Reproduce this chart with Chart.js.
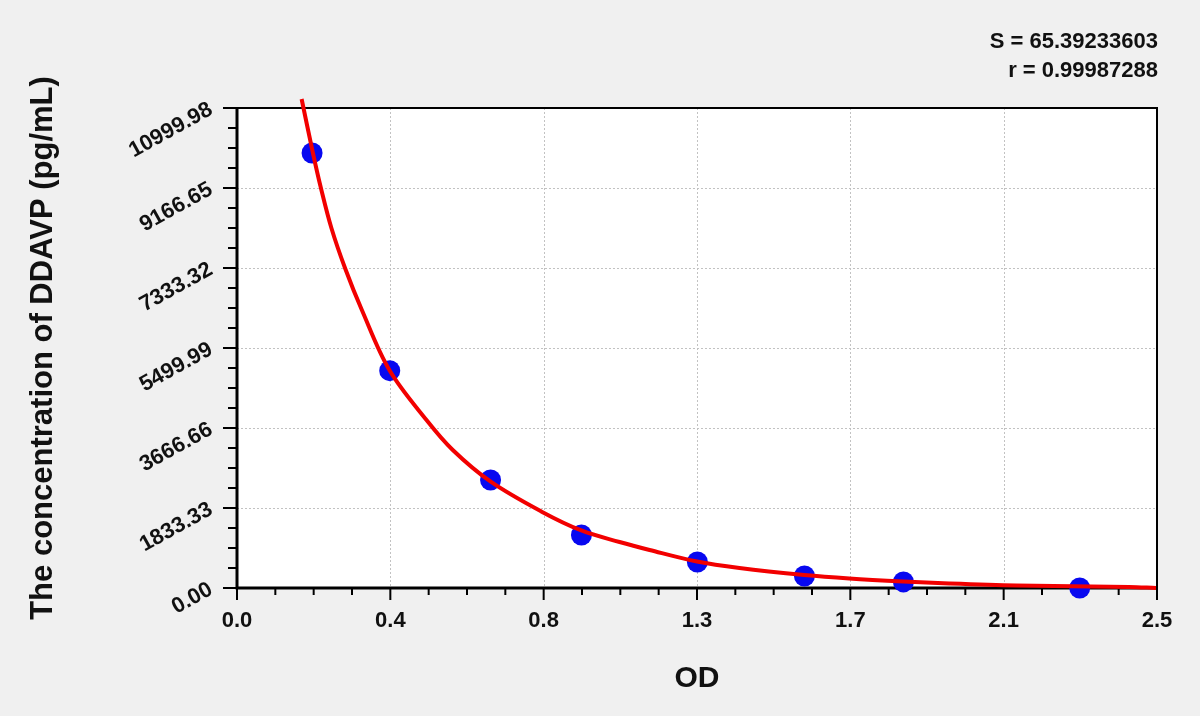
<!DOCTYPE html>
<html><head><meta charset="utf-8">
<script src="https://cdn.jsdelivr.net/npm/chart.js@4/dist/chart.umd.min.js"></script>
<style>html,body{margin:0;padding:0;background:#f0f0f0;overflow:hidden}#wrap{width:1200px;height:716px;position:relative}</style>
</head><body><div id="wrap"><canvas id="c"></canvas></div>
<script>
// ---- data ----
const xTickValues = [0, 0.41667, 0.83333, 1.25, 1.66667, 2.08333, 2.5];
const xTickLabels = ['0.0', '0.4', '0.8', '1.3', '1.7', '2.1', '2.5'];
const yTickValues = [0, 1833.33, 3666.66, 5499.99, 7333.32, 9166.65, 10999.98];
const yTickLabels = ['0.00', '1833.33', '3666.66', '5499.99', '7333.32', '9166.65', '10999.98'];
const stdOD = [0.204, 0.415, 0.689, 0.936, 1.251, 1.542, 1.811, 2.290];
const stdConc = [9969, 4980, 2475, 1215, 595, 275, 140, 0];
const fitOD = [0.1756, 0.2063, 0.2280, 0.2565, 0.2945, 0.3393, 0.4140, 0.5149, 0.5863, 0.6895, 0.8279, 0.9357, 1.0396, 1.1211, 1.2500, 1.3654, 1.5418, 1.6640, 1.8105, 1.9354, 2.1173, 2.4240, 2.4973];
const fitConc = [11206, 9969, 9167, 8250, 7310, 6371, 4996, 3850, 3163, 2436, 1749, 1318, 1054, 871, 607, 458, 298, 218, 149, 103, 57, 23, 0];
const statLines = ['S = 65.39233603', 'r = 0.99987288'];
const xTitle = 'OD';
const yTitle = 'The concentration of DDAVP (pg/mL)';

const FONT = "'Liberation Sans', Arial, sans-serif";

function minorValues(majors) {
  const out = [];
  for (let i = 0; i < majors.length - 1; i++) {
    const a = majors[i], b = majors[i + 1];
    for (let k = 1; k < 4; k++) out.push(a + (b - a) * k / 4);
  }
  return out;
}

const framePlugin = {
  id: 'frame',
  beforeDraw(chart) {
    const {ctx, chartArea: a} = chart;
    ctx.save();
    ctx.fillStyle = '#f0f0f0';
    ctx.fillRect(0, 0, chart.width, chart.height);
    ctx.fillStyle = '#ffffff';
    ctx.fillRect(a.left, a.top, a.right - a.left, a.bottom - a.top);
    ctx.restore();
  },
  beforeDatasetsDraw(chart) {
    const {ctx, chartArea: a, scales: {x, y}} = chart;
    ctx.save();
    ctx.strokeStyle = '#c2c2c2';
    ctx.lineWidth = 1;
    ctx.setLineDash([2, 2]);
    xTickValues.slice(1, -1).forEach(v => {
      const px = Math.round(x.getPixelForValue(v)) + 0.5;
      ctx.beginPath(); ctx.moveTo(px, a.top); ctx.lineTo(px, a.bottom); ctx.stroke();
    });
    yTickValues.slice(1, -1).forEach(v => {
      const py = Math.round(y.getPixelForValue(v)) + 0.5;
      ctx.beginPath(); ctx.moveTo(a.left, py); ctx.lineTo(a.right, py); ctx.stroke();
    });
    ctx.setLineDash([]);
    ctx.strokeStyle = '#000';
    ctx.lineWidth = 2;
    ctx.beginPath(); ctx.moveTo(a.left, a.top); ctx.lineTo(a.right, a.top); ctx.lineTo(a.right, a.bottom); ctx.stroke();
    ctx.lineWidth = 3;
    ctx.beginPath(); ctx.moveTo(a.left, a.top - 1); ctx.lineTo(a.left, a.bottom); ctx.lineTo(a.right + 1, a.bottom); ctx.stroke();
    ctx.lineWidth = 2;
    yTickValues.forEach(v => {
      const py = y.getPixelForValue(v);
      ctx.beginPath(); ctx.moveTo(a.left - 14, py); ctx.lineTo(a.left, py); ctx.stroke();
    });
    minorValues(yTickValues).forEach(v => {
      const py = y.getPixelForValue(v);
      ctx.beginPath(); ctx.moveTo(a.left - 9, py); ctx.lineTo(a.left, py); ctx.stroke();
    });
    xTickValues.forEach(v => {
      const px = x.getPixelForValue(v);
      ctx.beginPath(); ctx.moveTo(px, a.bottom); ctx.lineTo(px, a.bottom + 12); ctx.stroke();
    });
    minorValues(xTickValues).forEach(v => {
      const px = x.getPixelForValue(v);
      ctx.beginPath(); ctx.moveTo(px, a.bottom); ctx.lineTo(px, a.bottom + 7); ctx.stroke();
    });
    ctx.restore();
  },
  afterDraw(chart) {
    const {ctx, chartArea: a} = chart;
    ctx.save();
    ctx.fillStyle = '#111';
    ctx.font = 'bold 22px ' + FONT;
    ctx.textAlign = 'right';
    ctx.textBaseline = 'alphabetic';
    ctx.fillText(statLines[0], a.right + 1, 48);
    ctx.fillText(statLines[1], a.right + 1, 77);
    ctx.restore();
  }
};

new Chart(document.getElementById('c'), {
  type: 'scatter',
  data: {
    datasets: [
      {
        label: 'fit',
        data: fitOD.map((v, i) => ({x: v, y: fitConc[i]})),
        showLine: true,
        borderColor: '#f20000',
        borderWidth: 4,
        pointRadius: 0,
        tension: 0.35,
        clip: false,
        order: 0
      },
      {
        label: 'standards',
        data: stdOD.map((v, i) => ({x: v, y: stdConc[i]})),
        backgroundColor: '#0808f0',
        borderColor: '#0808f0',
        borderWidth: 0,
        pointRadius: 10.5,
        pointHoverRadius: 10.5,
        clip: false,
        order: 1
      }
    ]
  },
  options: {
    responsive: true,
    maintainAspectRatio: false,
    animation: false,
    events: [],
    layout: {padding: {top: 108, right: 43, left: 0, bottom: 0}},
    plugins: {legend: {display: false}, tooltip: {enabled: false}},
    scales: {
      x: {
        type: 'linear', min: 0, max: 2.5,
        afterBuildTicks: s => { s.ticks = xTickValues.map(v => ({value: v})); },
        afterFit: s => { s.height = 128; },
        grid: {color: 'rgba(0,0,0,0)', tickColor: 'rgba(0,0,0,0)', tickLength: 12},
        border: {display: false},
        ticks: {
          autoSkip: false, maxRotation: 0, minRotation: 0, padding: 8,
          color: '#111', font: {family: FONT, size: 22, weight: 'bold'},
          callback: (v, i) => xTickLabels[i]
        },
        title: {display: true, text: xTitle, color: '#111', font: {family: FONT, size: 30, weight: 'bold'}, padding: {top: 0, bottom: 19}}
      },
      y: {
        type: 'linear', min: 0, max: 10999.98,
        afterBuildTicks: s => { s.ticks = yTickValues.map(v => ({value: v})); },
        afterFit: s => { s.width = 237; },
        grid: {color: 'rgba(0,0,0,0)', tickColor: 'rgba(0,0,0,0)', tickLength: 14},
        border: {display: false},
        ticks: {
          autoSkip: false, minRotation: 29, maxRotation: 29, padding: 12,
          color: '#111', font: {family: FONT, size: 22, weight: 'bold'},
          callback: (v, i) => yTickLabels[i]
        },
        title: {display: true, text: yTitle, color: '#111', font: {family: FONT, size: 31, weight: 'bold'}, padding: {top: 25, bottom: 0}}
      }
    }
  },
  plugins: [framePlugin]
});
</script>
</body></html>
